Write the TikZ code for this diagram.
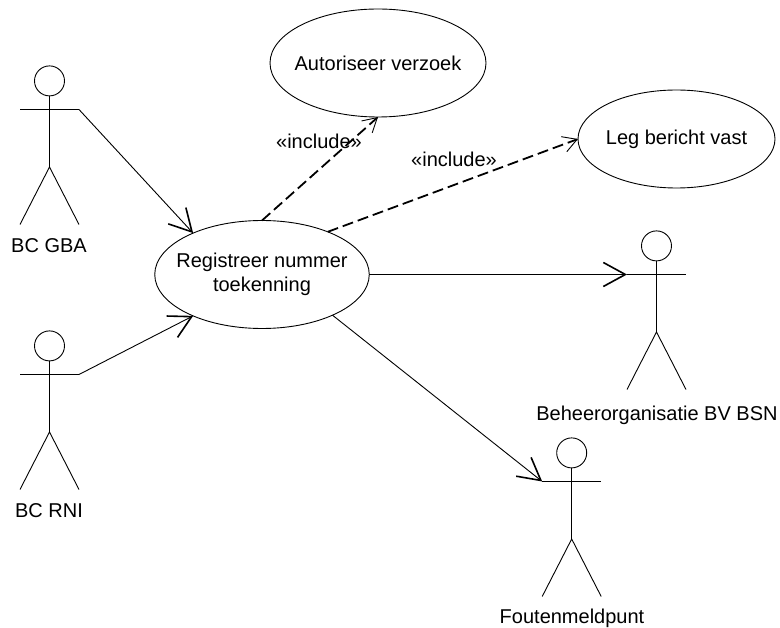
\documentclass[tikz,border=0pt]{standalone}
\usepackage{fontspec}
\setmainfont{Liberation Sans}
\usetikzlibrary{arrows.meta,shapes.geometric}
\tikzset{
  usecase/.style={draw=black,ellipse,line width=0.9pt,inner sep=0pt,outer sep=0pt},
  uctext/.style={inner sep=0pt,align=center,font=\fontsize{20}{24.5}\selectfont},
  lbl/.style={inner sep=0pt,font=\fontsize{20}{24}\selectfont},
  limb/.style={draw=black,line width=0.9pt},
  head/.style={draw=black,circle,line width=0.9pt,minimum size=30pt,inner sep=0pt,outer sep=0pt},
  assoc/.style={line width=0.9pt,-{Straight Barb[length=22pt,width=24pt,line width=1.6pt]}},
  incl/.style={line width=1.8pt,dash pattern=on 11pt off 5pt,-{Straight Barb[length=14pt,width=16pt,line width=0.9pt]}}
}
\newcommand{\actor}[3]{%
  \node[head] (#1h) at (#2,#3-28.6) {};
  \coordinate (#1l) at (#2-29.5,#3);
  \coordinate (#1r) at (#2+29.5,#3);
  \coordinate (#1hip) at (#2,#3+57.5);
  \coordinate (#1fl) at (#2-29.5,#3+115);
  \coordinate (#1fr) at (#2+29.5,#3+115);
  \draw[limb] (#1h.south) -- (#1hip);
  \draw[limb] (#1l) -- (#1r);
  \draw[limb] (#1fl) -- (#1hip) -- (#1fr);
}
\begin{document}
\begin{tikzpicture}[x=1pt,y=-1pt]
\useasboundingbox (0,0) rectangle (780,628);
\node[usecase,minimum width=216pt,minimum height=108pt] (aut) at (378,63) {};
\node[uctext] (autT) at (aut.center) {Autoriseer verzoek};
\node[usecase,minimum width=197pt,minimum height=98pt] (leg) at (676.5,139) {};
\node[uctext] (legT) at (leg.center) {Leg bericht vast};
\node[usecase,minimum width=214.5pt,minimum height=108pt] (reg) at (262,274.5) {};
\node[uctext] (regT) at (reg.center) {Registreer nummer\\toekenning};
\actor{a}{49.5}{109.5}
\actor{b}{49.5}{374.5}
\actor{c}{656.5}{274.5}
\actor{d}{571.7}{481.5}
\node[lbl] (labA) at (49,246) {BC GBA};
\node[lbl] (labB) at (49,510.5) {BC RNI};
\node[lbl] (labC) at (657,415) {Beheerorganisatie BV BSN};
\node[lbl] (labD) at (572,618) {Foutenmeldpunt};
\node[lbl] (i1) at (319,141) {«include»};
\node[lbl] (i2) at (454,159) {«include»};
\draw[assoc] (ar) -- (reg.149);
\draw[assoc] (br) -- (reg.211);
\draw[assoc] (reg.0) -- (cl);
\draw[assoc] (reg.-30) -- (dl);
\draw[incl] (reg.90) -- (aut.-90);
\draw[incl] (reg.33) -- (leg.180);
\end{tikzpicture}
\end{document}
